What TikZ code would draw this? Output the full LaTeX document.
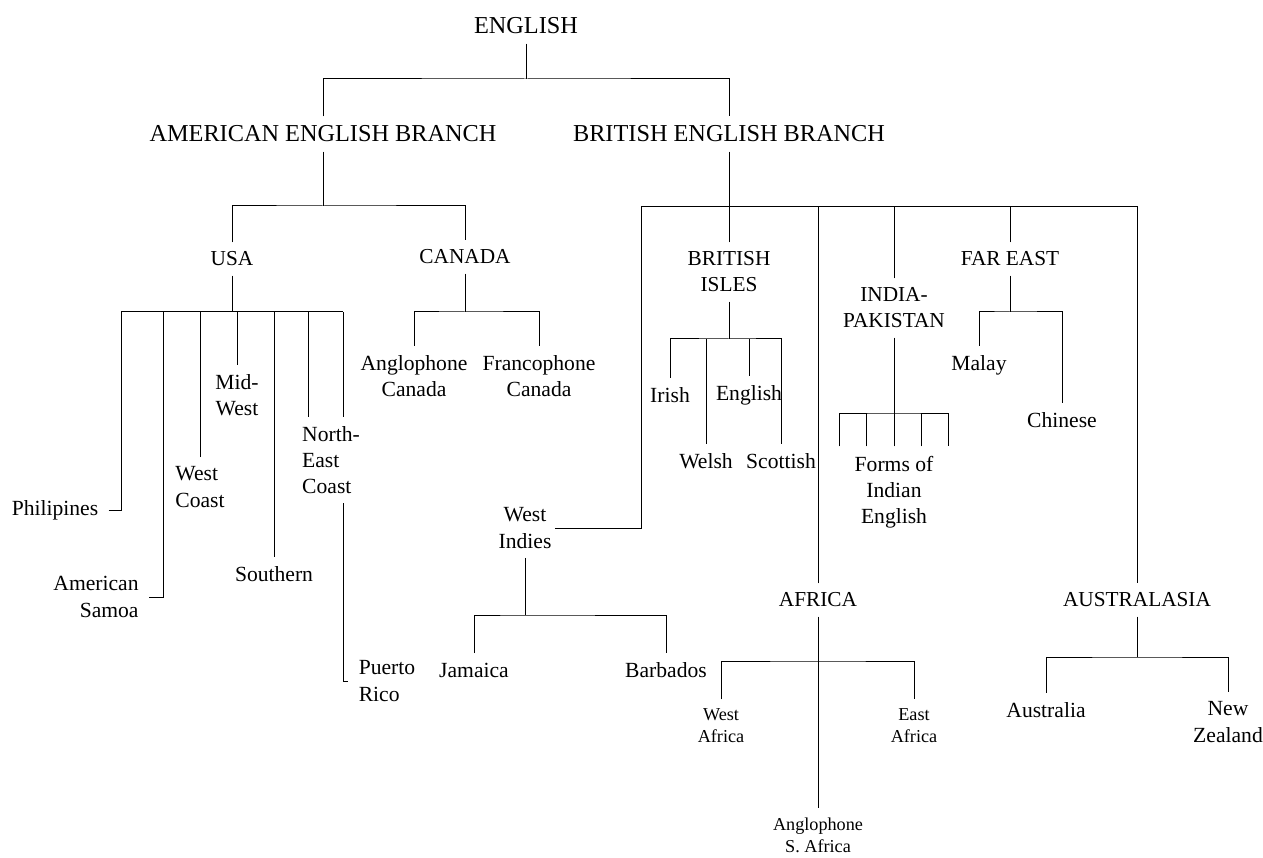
\documentclass[tikz,border=0pt]{standalone}
\usepackage{fontspec}
\setmainfont{Liberation Serif}
\tikzset{every node/.style={inner xsep=3pt, inner ysep=9pt, align=center},
  toplbl/.style={font=\fontsize{24.3}{29.6}\selectfont},
  reglbl/.style={font=\fontsize{21.3}{26}\selectfont},
  leaf/.style={font=\fontsize{21.6}{26.2}\selectfont},
  subleaf/.style={font=\fontsize{18.2}{22}\selectfont},
  side/.style={inner xsep=10pt}}

\begin{document}
\begin{tikzpicture}[x=1pt,y=-1pt,line width=1pt]
\useasboundingbox (0,0) rectangle (1263,858);

\node[toplbl] (english) at (526,26) {ENGLISH};
\node[toplbl] (amer) at (323,134) {AMERICAN ENGLISH BRANCH};
\node[toplbl] (brit) at (729,134) {BRITISH ENGLISH BRANCH};

\node[reglbl] (usa) at (232,259) {USA};
\node[reglbl] (canada) at (465,257) {CANADA};
\node[leaf] (westindies) at (525,528) {West\\Indies};
\node[reglbl] (brisles) at (729,272) {BRITISH\\ISLES};
\node[reglbl] (africa) at (818,600) {AFRICA};
\node[reglbl] (india) at (894,308) {INDIA-\\PAKISTAN};
\node[reglbl] (fareast) at (1010,259) {FAR EAST};
\node[reglbl] (austral) at (1137,600) {AUSTRALASIA};

% USA
\node[leaf, side] (philip) at (55,510) {Philipines};
\node[leaf, side, align=right] (amsamoa) at (96,597) {American\\Samoa};
\node[leaf, align=left] (westcoast) at (200,487) {West\\Coast};
\node[leaf] (midwest) at (237,395) {Mid-\\West};
\node[leaf] (southern) at (274,574) {Southern};
\node[leaf, align=left] (necoast) at (331,460) {North-\\East\\Coast};
\node[leaf, side, align=left] (puerto) at (387,681) {Puerto\\Rico};

% Canada
\node[leaf] (anglocan) at (414,376) {Anglophone\\Canada};
\node[leaf] (francocan) at (539,376) {Francophone\\Canada};

% British Isles
\node[leaf] (irish) at (670,395) {Irish};
\node[leaf] (welsh) at (706,461) {Welsh};
\node[leaf] (englishl) at (749,395) {English};
\node[leaf] (scottish) at (781,461) {Scottish};

% India, Far East
\node[leaf] (forms) at (894,492) {Forms of\\Indian\\English};
\node[leaf] (malay) at (979,365) {Malay};
\node[leaf] (chinese) at (1062,420) {Chinese};

% West Indies, Africa, Australasia
\node[leaf] (jamaica) at (474,670) {Jamaica};
\node[leaf] (barbados) at (666,670) {Barbados};
\node[subleaf] (westafr) at (721,726) {West\\Africa};
\node[subleaf] (eastafr) at (914,726) {East\\Africa};
\node[subleaf] (anglosa) at (818,835) {Anglophone\\S. Africa};
\node[leaf] (australia) at (1046,710) {Australia};
\node[leaf] (newz) at (1228,722) {New\\Zealand};

% junctions
\coordinate (e0) at (526,79);
\coordinate (a0) at (323,206);
\coordinate (b0) at (729,207);
\coordinate (b1) at (641,207);
\coordinate (u0) at (232,312);
\coordinate (u1) at (121,312);
\coordinate (u2) at (163,312);
\coordinate (u3) at (308,312);
\coordinate (u4) at (343,312);
\coordinate (c0) at (465,312);
\coordinate (i0) at (729,339);
\coordinate (p0) at (894,413);
\coordinate (f0) at (1010,312);
\coordinate (w0) at (525,615);
\coordinate (r0) at (818,661);
\coordinate (s0) at (1137,657);

\draw (english) -- (e0);
\draw (amer) |- (e0) -| (brit);

\draw (amer) -- (a0);
\draw (usa) |- (a0) -| (canada);

\draw (usa) -- (u0);
\draw (u1) -- (u4);
\draw (philip) -| (u1);
\draw (amsamoa) -| (u2);
\draw (westcoast) -- (westcoast |- u0);
\draw (midwest) -- (midwest |- u0);
\draw (southern) -- (southern |- u0);
\draw (necoast.north -| u3) -- (u3);
\draw (necoast.north -| u4) -- (u4);
\draw (necoast.south -| u4) |- (puerto);

\draw (canada) -- (c0);
\draw (anglocan) |- (c0) -| (francocan);

\draw (brit) -- (b0);
\draw (westindies) -| (b1) -| (austral);
\draw (brisles) -- (b0);
\draw (africa) -- (africa |- b0);
\draw (india) -- (india |- b0);
\draw (fareast) -- (fareast |- b0);

\draw (brisles) -- (i0);
\draw (irish) |- (i0) -| (scottish);
\draw (welsh) -- (welsh |- i0);
\draw (englishl) -- (englishl |- i0);

\draw (india) -- (p0);
\draw ([xshift=-55pt]forms.north) |- (p0) -| ([xshift=54pt]forms.north);
\foreach \dx in {-28,0,27}
  \draw ([xshift=\dx pt]forms.north) -- ([xshift=\dx pt]forms.north |- p0);

\draw (fareast) -- (f0);
\draw (malay) |- (f0) -| (chinese);

\draw (westindies) -- (w0);
\draw (jamaica) |- (w0) -| (barbados);

\draw (africa) -- (anglosa);
\draw (westafr) |- (r0) -| (eastafr);

\draw (austral) -- (s0);
\draw (australia) |- (s0) -| (newz);
\end{tikzpicture}
\end{document}
